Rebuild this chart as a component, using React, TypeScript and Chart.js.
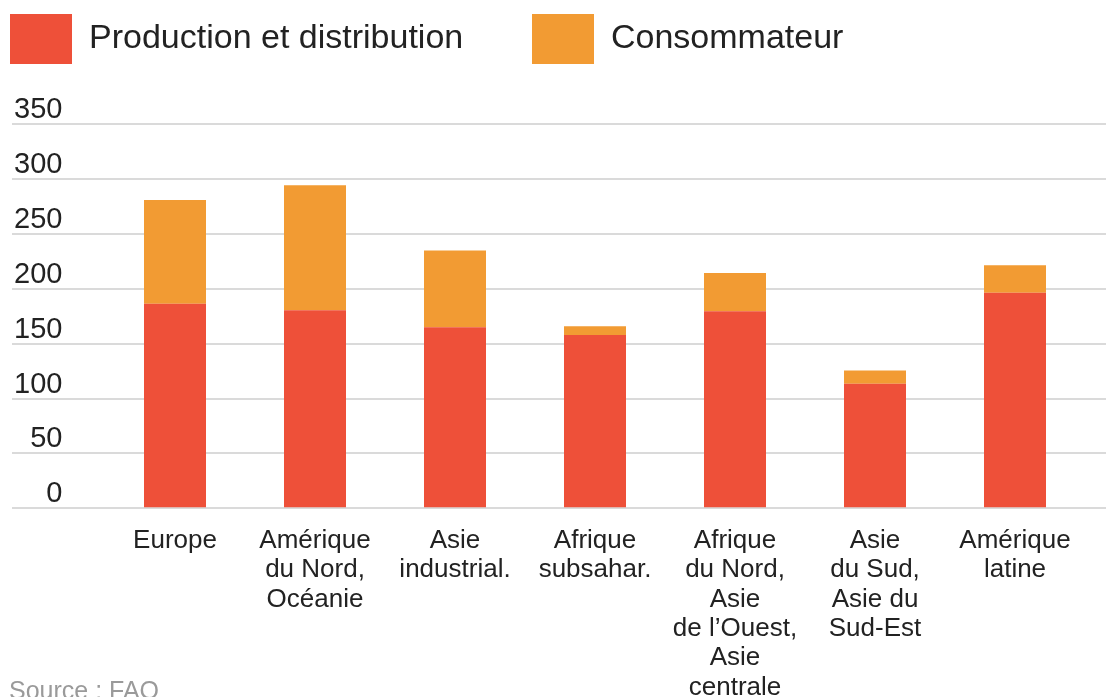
import React, { useEffect, useRef } from 'react';
import { Chart, registerables } from 'chart.js';

Chart.register(...registerables);

const categories: (string | string[])[] = [
  'Europe',
  ['Amérique', 'du Nord,', 'Océanie'],
  ['Asie', 'industrial.'],
  ['Afrique', 'subsahar.'],
  ['Afrique', 'du Nord,', 'Asie', 'de l’Ouest,', 'Asie', 'centrale'],
  ['Asie', 'du Sud,', 'Asie du', 'Sud-Est'],
  ['Amérique', 'latine'],
];

const productionDistribution = [186.5, 180.5, 165, 158, 179.5, 113.5, 196.5];
const consommateur = [94.5, 114, 70, 8, 35, 12, 25];

const seriesLabels = ['Production et distribution', 'Consommateur'];
const yMin = 0;
const yMax = 350;
const yStep = 50;
const sourceText = 'Source : FAO';

const FONT = '"Liberation Sans", Arial, sans-serif';
const RED = '#EE5039';
const ORANGE = '#F29B33';
const GRID = '#dadada';
const TEXT = '#222222';

const W = 1106;
const H = 697;

export default function App() {
  const ref = useRef<HTMLCanvasElement | null>(null);

  useEffect(() => {
    const canvas = ref.current;
    if (!canvas) return;
    const legendSize = 34;
    const mctx = canvas.getContext('2d')!;
    mctx.font = `${legendSize}px ${FONT}`;
    const w1 = mctx.measureText(seriesLabels[0]).width;
    // legend spacing: second box starts at x=532
    const pad = 532 - 10 - 62 - legendSize / 2 - w1;
    const padL = 10 - pad;
    const padT = 14 - pad;
    const plotTop = 124.3;
    const plotBottom = 508.3;
    const plotLeft = 105;

    const extendGrid = {
      id: 'extendGrid',
      beforeDatasetsDraw(chart: any) {
        const { ctx, chartArea } = chart;
        const y = chart.scales.y;
        ctx.save();
        ctx.strokeStyle = GRID;
        ctx.lineWidth = 2;
        y.ticks.forEach((t: any) => {
          const py = Math.round(y.getPixelForValue(t.value));
          ctx.beginPath();
          ctx.moveTo(12, py);
          ctx.lineTo(chartArea.left, py);
          ctx.moveTo(chartArea.right, py);
          ctx.lineTo(chart.width, py);
          ctx.stroke();
        });
        ctx.restore();
      },
    };

    const legendHeight = {
      id: 'legendHeight',
      beforeLayout(chart: any) {
        const lg = chart.legend;
        if (lg && !lg._patchedFit) {
          const orig = lg.fit;
          lg.fit = function () {
            orig.call(this);
            this.height = plotTop - padT;
          };
          lg._patchedFit = true;
        }
      },
    };

    const chart = new Chart(canvas, {
      type: 'bar',
      data: {
        labels: categories as any,
        datasets: [
          {
            label: seriesLabels[0],
            data: productionDistribution,
            backgroundColor: RED,
            borderWidth: 0,
            categoryPercentage: 1,
            barPercentage: 62 / 140,
          },
          {
            label: seriesLabels[1],
            data: consommateur,
            backgroundColor: ORANGE,
            borderWidth: 0,
            categoryPercentage: 1,
            barPercentage: 62 / 140,
          },
        ],
      },
      options: {
        animation: false,
        responsive: false,
        devicePixelRatio: 1,
        layout: { padding: { left: padL, top: padT, right: W - 1085, bottom: 0 } },
        plugins: {
          legend: {
            display: true,
            position: 'top',
            align: 'start',
            labels: {
              boxWidth: 62,
              boxHeight: 50,
              padding: pad,
              color: TEXT,
              font: { family: FONT, size: legendSize },
            },
          },
          tooltip: { enabled: false },
        },
        scales: {
          x: {
            stacked: true,
            grid: { display: false },
            border: { display: false },
            ticks: {
              color: TEXT,
              font: { family: FONT, size: 26, lineHeight: 29.3 / 26 },
              padding: 10,
              maxRotation: 0,
              autoSkip: false,
            },
            afterFit: (s: any) => {
              s.height = H - plotBottom;
            },
          },
          y: {
            stacked: true,
            min: yMin,
            max: yMax,
            ticks: {
              stepSize: yStep,
              color: TEXT,
              font: { family: FONT, size: 29 },
              padding: plotLeft - 62.5,
              labelOffset: -14,
            },
            grid: { color: GRID, lineWidth: 2, drawTicks: false },
            border: { display: false },
            afterFit: (s: any) => {
              s.width = plotLeft - padL;
            },
          },
        },
      } as any,
      plugins: [extendGrid, legendHeight],
    });
    return () => chart.destroy();
  }, []);

  return (
    <div
      style={{
        position: 'fixed',
        left: 0,
        top: 0,
        width: W,
        height: H,
        overflow: 'hidden',
        background: '#fff',
      }}
    >
      <canvas ref={ref} width={W} height={H} style={{ display: 'block', width: W, height: H }} />
      <div
        style={{
          position: 'absolute',
          left: 9,
          top: 678,
          fontFamily: FONT,
          fontSize: 25,
          lineHeight: '25px',
          color: '#9a9a9a',
          whiteSpace: 'nowrap',
        }}
      >
        {sourceText}
      </div>
    </div>
  );
}
